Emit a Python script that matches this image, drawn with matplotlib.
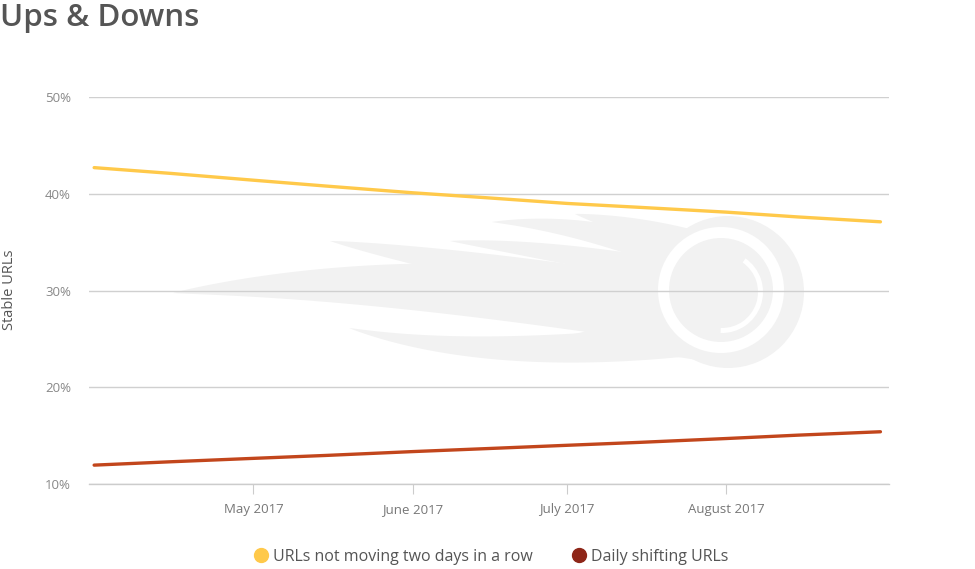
import matplotlib
matplotlib.use("Agg")
import matplotlib.pyplot as plt
import matplotlib.dates as mdates
import numpy as np
import pandas as pd
from matplotlib.lines import Line2D
from matplotlib.patches import Circle, Polygon, Wedge

plt.rcParams["font.family"] = ["Open Sans", "DejaVu Sans"]

# values (percent)
dates = pd.to_datetime([
    "2017-03-31", "2017-04-15", "2017-05-01", "2017-05-15", "2017-06-01",
    "2017-06-15", "2017-07-01", "2017-07-15", "2017-08-01", "2017-08-15",
    "2017-08-31",
])
not_moving = [42.7, 42.1, 41.4, 40.8, 40.1, 39.6, 39.0, 38.6, 38.1, 37.6, 37.1]
daily_shift = [11.95, 12.3, 12.65, 12.95, 13.35, 13.65, 14.0, 14.3, 14.7, 15.05, 15.4]

series_names = ["URLs not moving two days in a row", "Daily shifting URLs"]
line_colors = ["#FFC94A", "#C2461C"]
dot_colors = ["#FFC94A", "#8E2618"]
month_ticks = pd.to_datetime(["2017-05-01", "2017-06-01", "2017-07-01", "2017-08-01"])
y_ticks = [10, 20, 30, 40, 50]

W, H = 975, 569
fig = plt.figure(figsize=(W / 100, H / 100), dpi=100)

# faint logo watermark, drawn in pixel space behind the chart
bg = fig.add_axes([0, 0, 1, 1], zorder=0)
bg.set_xlim(0, W)
bg.set_ylim(H, 0)
bg.axis("off")
wm = "#f2f2f2"


def tongue(p0, p1, p2, w, n=60):
    t = np.linspace(0, 1, n)[:, None]
    p0, p1, p2 = map(np.asarray, (p0, p1, p2))
    pts = (1 - t) ** 2 * p0 + 2 * (1 - t) * t * p1 + t ** 2 * p2
    d = 2 * (1 - t) * (p1 - p0) + 2 * t * (p2 - p1)
    nrm = np.c_[-d[:, 1], d[:, 0]] / np.linalg.norm(d, axis=1)[:, None]
    h = (w / 2) * np.sin(np.pi / 2 * t) ** 0.9
    poly = np.vstack([pts + nrm * h, (pts - nrm * h)[::-1]])
    bg.add_patch(Polygon(poly, closed=True, fc=wm, ec="none"))


tongue((173, 293), (400, 270), (690, 315), 64)
tongue((330, 241), (450, 262), (690, 300), 36)
tongue((450, 241), (540, 248), (690, 275), 24)
tongue((492, 222), (590, 222), (690, 262), 28)
tongue((575, 214), (630, 226), (700, 245), 26)
tongue((349, 328), (480, 362), (690, 340), 32)
tongue((520, 352), (610, 330), (700, 340), 30)
tongue((600, 350), (660, 342), (715, 352), 22)
bg.add_patch(Circle((728, 292), 76, fc=wm, ec="none"))
bg.add_patch(Wedge((721, 290), 63, 0, 360, width=11, fc="white", ec="none"))
bg.add_patch(Wedge((722, 292), 41, -55, 92, width=5, fc="white", ec="none"))

ax = fig.add_axes([89 / W, 1 - 484 / H, 800 / W, 387 / H], zorder=1)
ax.patch.set_alpha(0)

ax.plot(dates, not_moving, color=line_colors[0], lw=2.4, solid_capstyle="round", zorder=3)
ax.plot(dates, daily_shift, color=line_colors[1], lw=2.4, solid_capstyle="round", zorder=3)

ax.set_ylim(10, 50)
ax.set_yticks(y_ticks)
ax.set_yticklabels([f"{v}%" for v in y_ticks])
ax.set_xlim(pd.Timestamp("2017-03-30"), pd.Timestamp("2017-09-01 16:00"))
ax.set_xticks(month_ticks)
ax.xaxis.set_major_formatter(mdates.DateFormatter("%B %Y"))

ax.grid(axis="y", color="#d0d0d0", lw=1)
ax.set_axisbelow(True)
for s in ["top", "right", "left"]:
    ax.spines[s].set_visible(False)
ax.spines["bottom"].set_color("#cccccc")
ax.spines["bottom"].set_linewidth(1)
ax.tick_params(axis="y", length=0, pad=13, labelsize=9.5, labelcolor="#888888")
ax.tick_params(axis="x", length=7, width=0.8, color="#cccccc", pad=7,
               labelsize=9.5, labelcolor="#777777")

fig.text(10 / W, 1 - 290 / H, "Stable URLs", rotation=90, ha="center", va="center",
         fontsize=10.5, color="#555555")
fig.text(0, 1 - 18 / H, "Ups & Downs", ha="left", va="center",
         fontsize=22.5, color="#555555", fontweight="semibold")

handles = [Line2D([], [], ls="none", marker="o", ms=10, mfc=c, mec=c) for c in dot_colors]
fig.legend(handles, series_names, loc="center", bbox_to_anchor=(491 / W, 1 - 557 / H),
           ncol=2, frameon=False, fontsize=11.5, labelcolor="#555555",
           handletextpad=0.25, columnspacing=2.4, handlelength=1.0)

fig.savefig("out.png", dpi=100)
